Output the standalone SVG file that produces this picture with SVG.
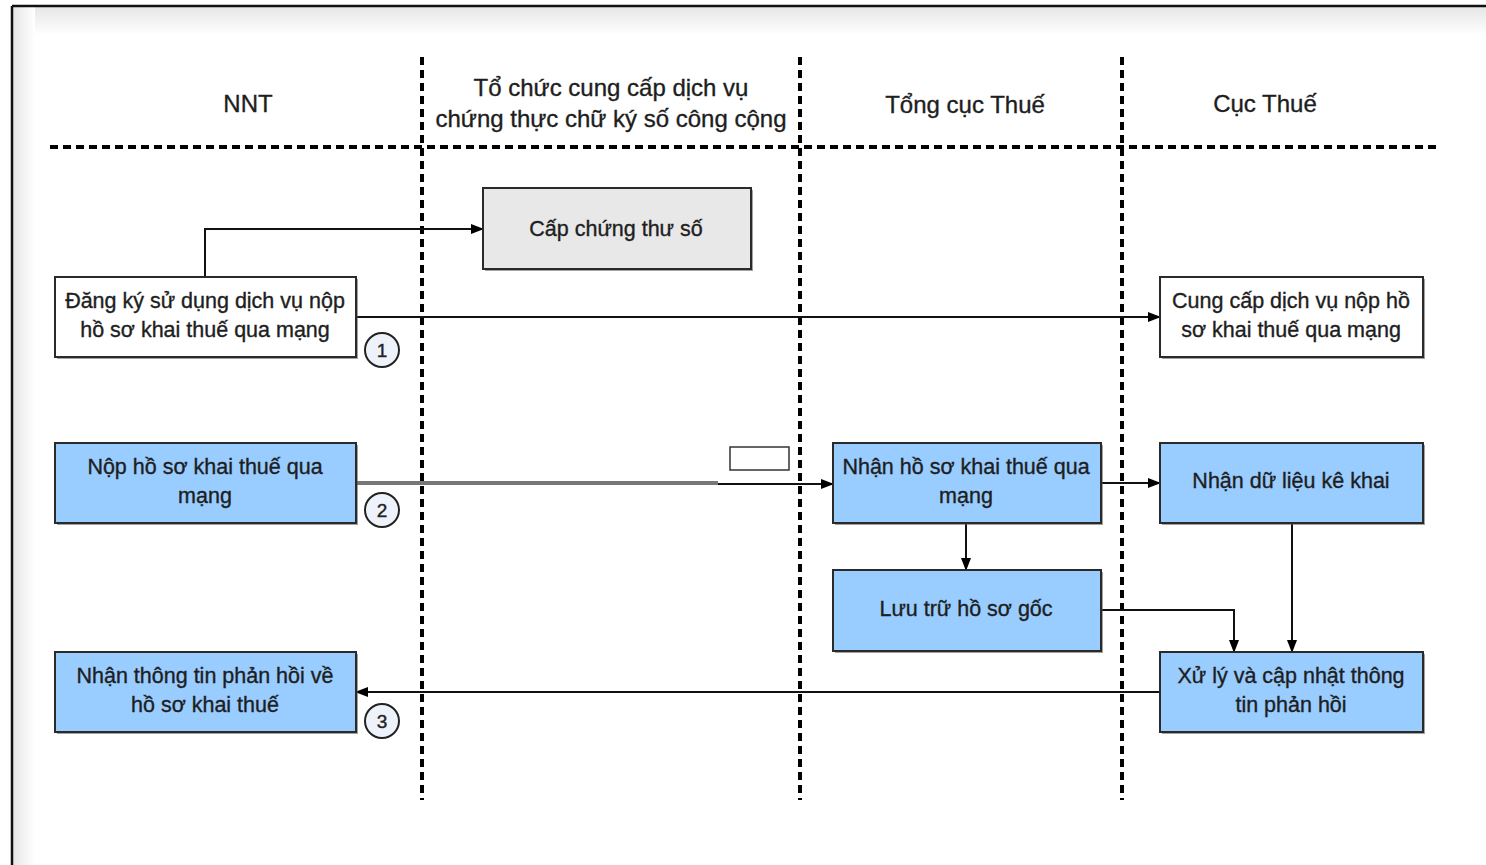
<svg xmlns="http://www.w3.org/2000/svg" width="1486" height="865" viewBox="0 0 1486 865">
<defs>
<style>
.t{font-family:"Liberation Sans",Arial,sans-serif;font-size:21.5px;fill:#1e1e1e;stroke:#1e1e1e;stroke-width:0.35;text-anchor:middle}
.h{font-family:"Liberation Sans",Arial,sans-serif;font-size:24px;fill:#1e1e1e;stroke:#1e1e1e;stroke-width:0.35;text-anchor:middle}
.box{stroke:#2a2a2a;stroke-width:2}
.blue{fill:#99ccff}
.white{fill:#ffffff}
.gray{fill:#e8e8e8}
.sh{fill:#555;opacity:0.55}
.dash{stroke:#000;stroke-width:4;stroke-dasharray:8,5;fill:none}
.c{stroke:#111;stroke-width:2;fill:none}
.num{fill:#eef2fb;stroke:#222;stroke-width:2}
.n{font-family:"Liberation Sans",Arial,sans-serif;font-size:19px;fill:#222;stroke:#222;stroke-width:0.4;text-anchor:middle}
</style>
<marker id="arr" markerWidth="13" markerHeight="12" refX="12" refY="6" orient="auto" markerUnits="userSpaceOnUse">
<path d="M0,1 L13,6 L0,11 Z" fill="#000"/>
</marker>
<linearGradient id="shT" x1="0" y1="0" x2="0" y2="1">
<stop offset="0" stop-color="#e6e6e6"/><stop offset="1" stop-color="#ffffff"/>
</linearGradient>
<linearGradient id="shL" x1="0" y1="0" x2="1" y2="0">
<stop offset="0" stop-color="#e6e6e6"/><stop offset="1" stop-color="#ffffff"/>
</linearGradient>
</defs>
<rect x="0" y="0" width="1486" height="865" fill="#fff"/>
<g id="frame">
<rect x="13" y="7" width="1473" height="28" fill="url(#shT)"/>
<rect x="13" y="7" width="22" height="858" fill="url(#shL)"/>
<line x1="12" y1="6" x2="1486" y2="6" stroke="#111" stroke-width="2.5"/>
<line x1="12" y1="6" x2="12" y2="865" stroke="#111" stroke-width="2.5"/>
</g>
<g id="lanes">
<line class="dash" x1="50" y1="147" x2="1437" y2="147"/>
<line class="dash" x1="422" y1="57" x2="422" y2="800"/>
<line class="dash" x1="800" y1="57" x2="800" y2="800"/>
<line class="dash" x1="1122" y1="57" x2="1122" y2="800"/>
<text class="h" x="248" y="112">NNT</text>
<text class="h" x="611" y="96">Tổ chức cung cấp dịch vụ</text>
<text class="h" x="611" y="127">chứng thực chữ ký số công cộng</text>
<text class="h" x="965" y="113">Tổng cục Thuế</text>
<text class="h" x="1265" y="112">Cục Thuế</text>
</g>
<g id="connectors">
<polyline class="c" points="205,277 205,229 483,229" marker-end="url(#arr)"/>
<line class="c" x1="356" y1="317" x2="1160" y2="317" marker-end="url(#arr)"/>
<line x1="356" y1="483" x2="718" y2="483" stroke="#777" stroke-width="4"/>
<line class="c" x1="718" y1="484" x2="833" y2="484" marker-end="url(#arr)"/>
<line class="c" x1="1101" y1="483" x2="1160" y2="483" marker-end="url(#arr)"/>
<line class="c" x1="966" y1="523" x2="966" y2="570" marker-end="url(#arr)"/>
<polyline class="c" points="1101,610 1234,610 1234,652" marker-end="url(#arr)"/>
<line class="c" x1="1292" y1="523" x2="1292" y2="652" marker-end="url(#arr)"/>
<line class="c" x1="1160" y1="692" x2="356" y2="692" marker-end="url(#arr)"/>
</g>
<g id="blank-box">
<rect x="730" y="447" width="59" height="23" fill="#fff" stroke="#333" stroke-width="1.5"/>
</g>
<g id="n-cap">
<rect class="sh" x="485" y="190" width="268" height="81"/>
<rect class="box gray" x="483" y="188" width="268" height="81"/>
<text class="t" x="616" y="236">Cấp chứng thư số</text>
</g>
<g id="n-dangky">
<rect class="sh" x="57" y="279" width="301" height="80"/>
<rect class="box white" x="55" y="277" width="301" height="80"/>
<text class="t" x="205" y="308">Đăng ký sử dụng dịch vụ nộp</text>
<text class="t" x="205" y="337">hồ sơ khai thuế qua mạng</text>
</g>
<g id="n-cungcap">
<rect class="sh" x="1162" y="279" width="263" height="80"/>
<rect class="box white" x="1160" y="277" width="263" height="80"/>
<text class="t" x="1291" y="308">Cung cấp dịch vụ nộp hồ</text>
<text class="t" x="1291" y="337">sơ khai thuế qua mạng</text>
</g>
<g id="n-nop">
<rect class="sh" x="57" y="445" width="301" height="80"/>
<rect class="box blue" x="55" y="443" width="301" height="80"/>
<text class="t" x="205" y="474">Nộp hồ sơ khai thuế qua</text>
<text class="t" x="205" y="503">mạng</text>
</g>
<g id="n-nhanhoso">
<rect class="sh" x="835" y="445" width="268" height="80"/>
<rect class="box blue" x="833" y="443" width="268" height="80"/>
<text class="t" x="966" y="474">Nhận hồ sơ khai thuế qua</text>
<text class="t" x="966" y="503">mạng</text>
</g>
<g id="n-nhandulieu">
<rect class="sh" x="1162" y="445" width="263" height="80"/>
<rect class="box blue" x="1160" y="443" width="263" height="80"/>
<text class="t" x="1291" y="488">Nhận dữ liệu kê khai</text>
</g>
<g id="n-luutru">
<rect class="sh" x="835" y="572" width="268" height="81"/>
<rect class="box blue" x="833" y="570" width="268" height="81"/>
<text class="t" x="966" y="616">Lưu trữ hồ sơ gốc</text>
</g>
<g id="n-nhanthongtin">
<rect class="sh" x="57" y="654" width="301" height="80"/>
<rect class="box blue" x="55" y="652" width="301" height="80"/>
<text class="t" x="205" y="683">Nhận thông tin phản hồi về</text>
<text class="t" x="205" y="712">hồ sơ khai thuế</text>
</g>
<g id="n-xuly">
<rect class="sh" x="1162" y="654" width="263" height="80"/>
<rect class="box blue" x="1160" y="652" width="263" height="80"/>
<text class="t" x="1291" y="683">Xử lý và cập nhật thông</text>
<text class="t" x="1291" y="712">tin phản hồi</text>
</g>
<g id="step1"><circle class="num" cx="382" cy="350" r="17"/><text class="n" x="382" y="357">1</text></g>
<g id="step2"><circle class="num" cx="382" cy="510" r="17"/><text class="n" x="382" y="517">2</text></g>
<g id="step3"><circle class="num" cx="382" cy="721" r="17"/><text class="n" x="382" y="728">3</text></g>
</svg>
